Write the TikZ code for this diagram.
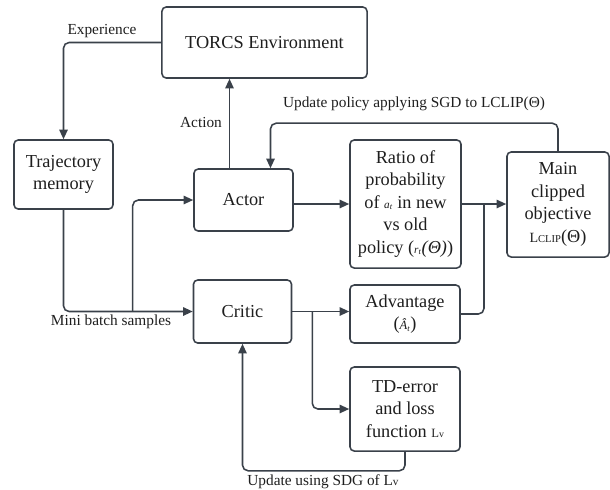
\documentclass[tikz,border=0pt]{standalone}
\usepackage{fontspec}
\setmainfont{Liberation Serif}
\usetikzlibrary{positioning, arrows.meta, calc}
\definecolor{lineGray}{HTML}{3A414A}
\definecolor{textBlack}{HTML}{1E1E1E}

\begin{document}
\begin{tikzpicture}[x=0.025cm, y=-0.025cm,
      box/.style={rectangle, rounded corners=3pt, draw=lineGray, line width=1.1pt, fill=white, align=center, text=textBlack, font=\fontsize{13}{16}\selectfont, inner sep=2pt},
      conn/.style={draw=lineGray, line width=1.1pt, rounded corners=4pt},
      arr/.style={conn, -{Triangle[length=2.4mm, width=2.1mm]}},
      lbl/.style={text=textBlack, font=\fontsize{10.9}{12}\selectfont, inner sep=1pt}
    ]
      \useasboundingbox (0,0) rectangle (610,489);

      \node[box, minimum width=5.125cm, minimum height=1.775cm] (env) at (264.5,42.5) {TORCS Environment};
      \node[box, minimum width=2.475cm, minimum height=1.725cm] (traj) at (63.5,174.5) {Trajectory\\memory};
      \node[box, minimum width=2.475cm, minimum height=1.55cm] (actor) at (243.5,200) {Actor};
      \node[box, minimum width=2.45cm, minimum height=1.575cm] (critic) at (242.5,311.5) {Critic};
      \node[box, minimum width=2.775cm, minimum height=3.2cm] (ratio) at (405.5,204) {Ratio of\\probability\\of {\fontsize{8}{8}\selectfont\itshape a\textsubscript{t}} in new\\vs old\\policy ({\fontsize{8}{8}\selectfont\itshape r\textsubscript{t}}\textit{(Θ)})};
      \node[box, minimum width=2.55cm, minimum height=2.625cm] (main) at (558,204.5) {Main\\clipped\\objective\\{\fontsize{10}{10}\selectfont L}{\fontsize{7.5}{8}\selectfont CLIP}(Θ)};
      \node[box, minimum width=2.75cm, minimum height=1.45cm] (adv) at (405,314) {Advantage\\({\small\itshape Â\textsubscript{t}})};
      \node[box, minimum width=2.75cm, minimum height=2.1cm] (td) at (405,409) {TD-error\\and loss\\function {\small L{\scriptsize v}}};

      \coordinate (batch) at ($(critic.west)+(-60,0)$);
      \coordinate (cbranch) at ($(critic.east)+(20,0)$);
      \coordinate (merge) at ($(ratio.east)!0.5!(main.west)$);
      \coordinate (act) at ($(actor.north)+(-14,0)$);

      \draw[arr] (env.west) -| (traj.north);
      \draw[arr] (act) -- (act |- env.south);
      \draw[arr] (main.north) -- ++(0,-28) -| ($(actor.north)+(27,0)$);
      \draw[arr] (traj.south) |- (critic.west);
      \draw[arr] (batch) |- (actor.west);
      \draw[arr] (actor.east |- ratio.west) -- (ratio.west);
      \draw[arr] (ratio.east) -- (main.west |- ratio.east);
      \draw[conn] (adv.east) -| (merge);
      \draw[arr] (critic.east) -- (critic.east -| adv.west);
      \draw[arr] (cbranch) |- (td.west);
      \draw[arr] (td.south) -- ++(0,19) -| (critic.south);

      \node[lbl] (explbl) at (102,31) {Experience};
      \node[lbl] (actlbl) at (201,122) {Action};
      \node[lbl] (updlbl) at (414,104) {Update policy applying SGD to LCLIP(Θ)};
      \node[lbl] (mblbl) at (111,322) {Mini batch samples};
      \node[lbl] (sdglbl) at (323,482) {Update using SDG of L{\footnotesize v}};
    \end{tikzpicture}
\end{document}
